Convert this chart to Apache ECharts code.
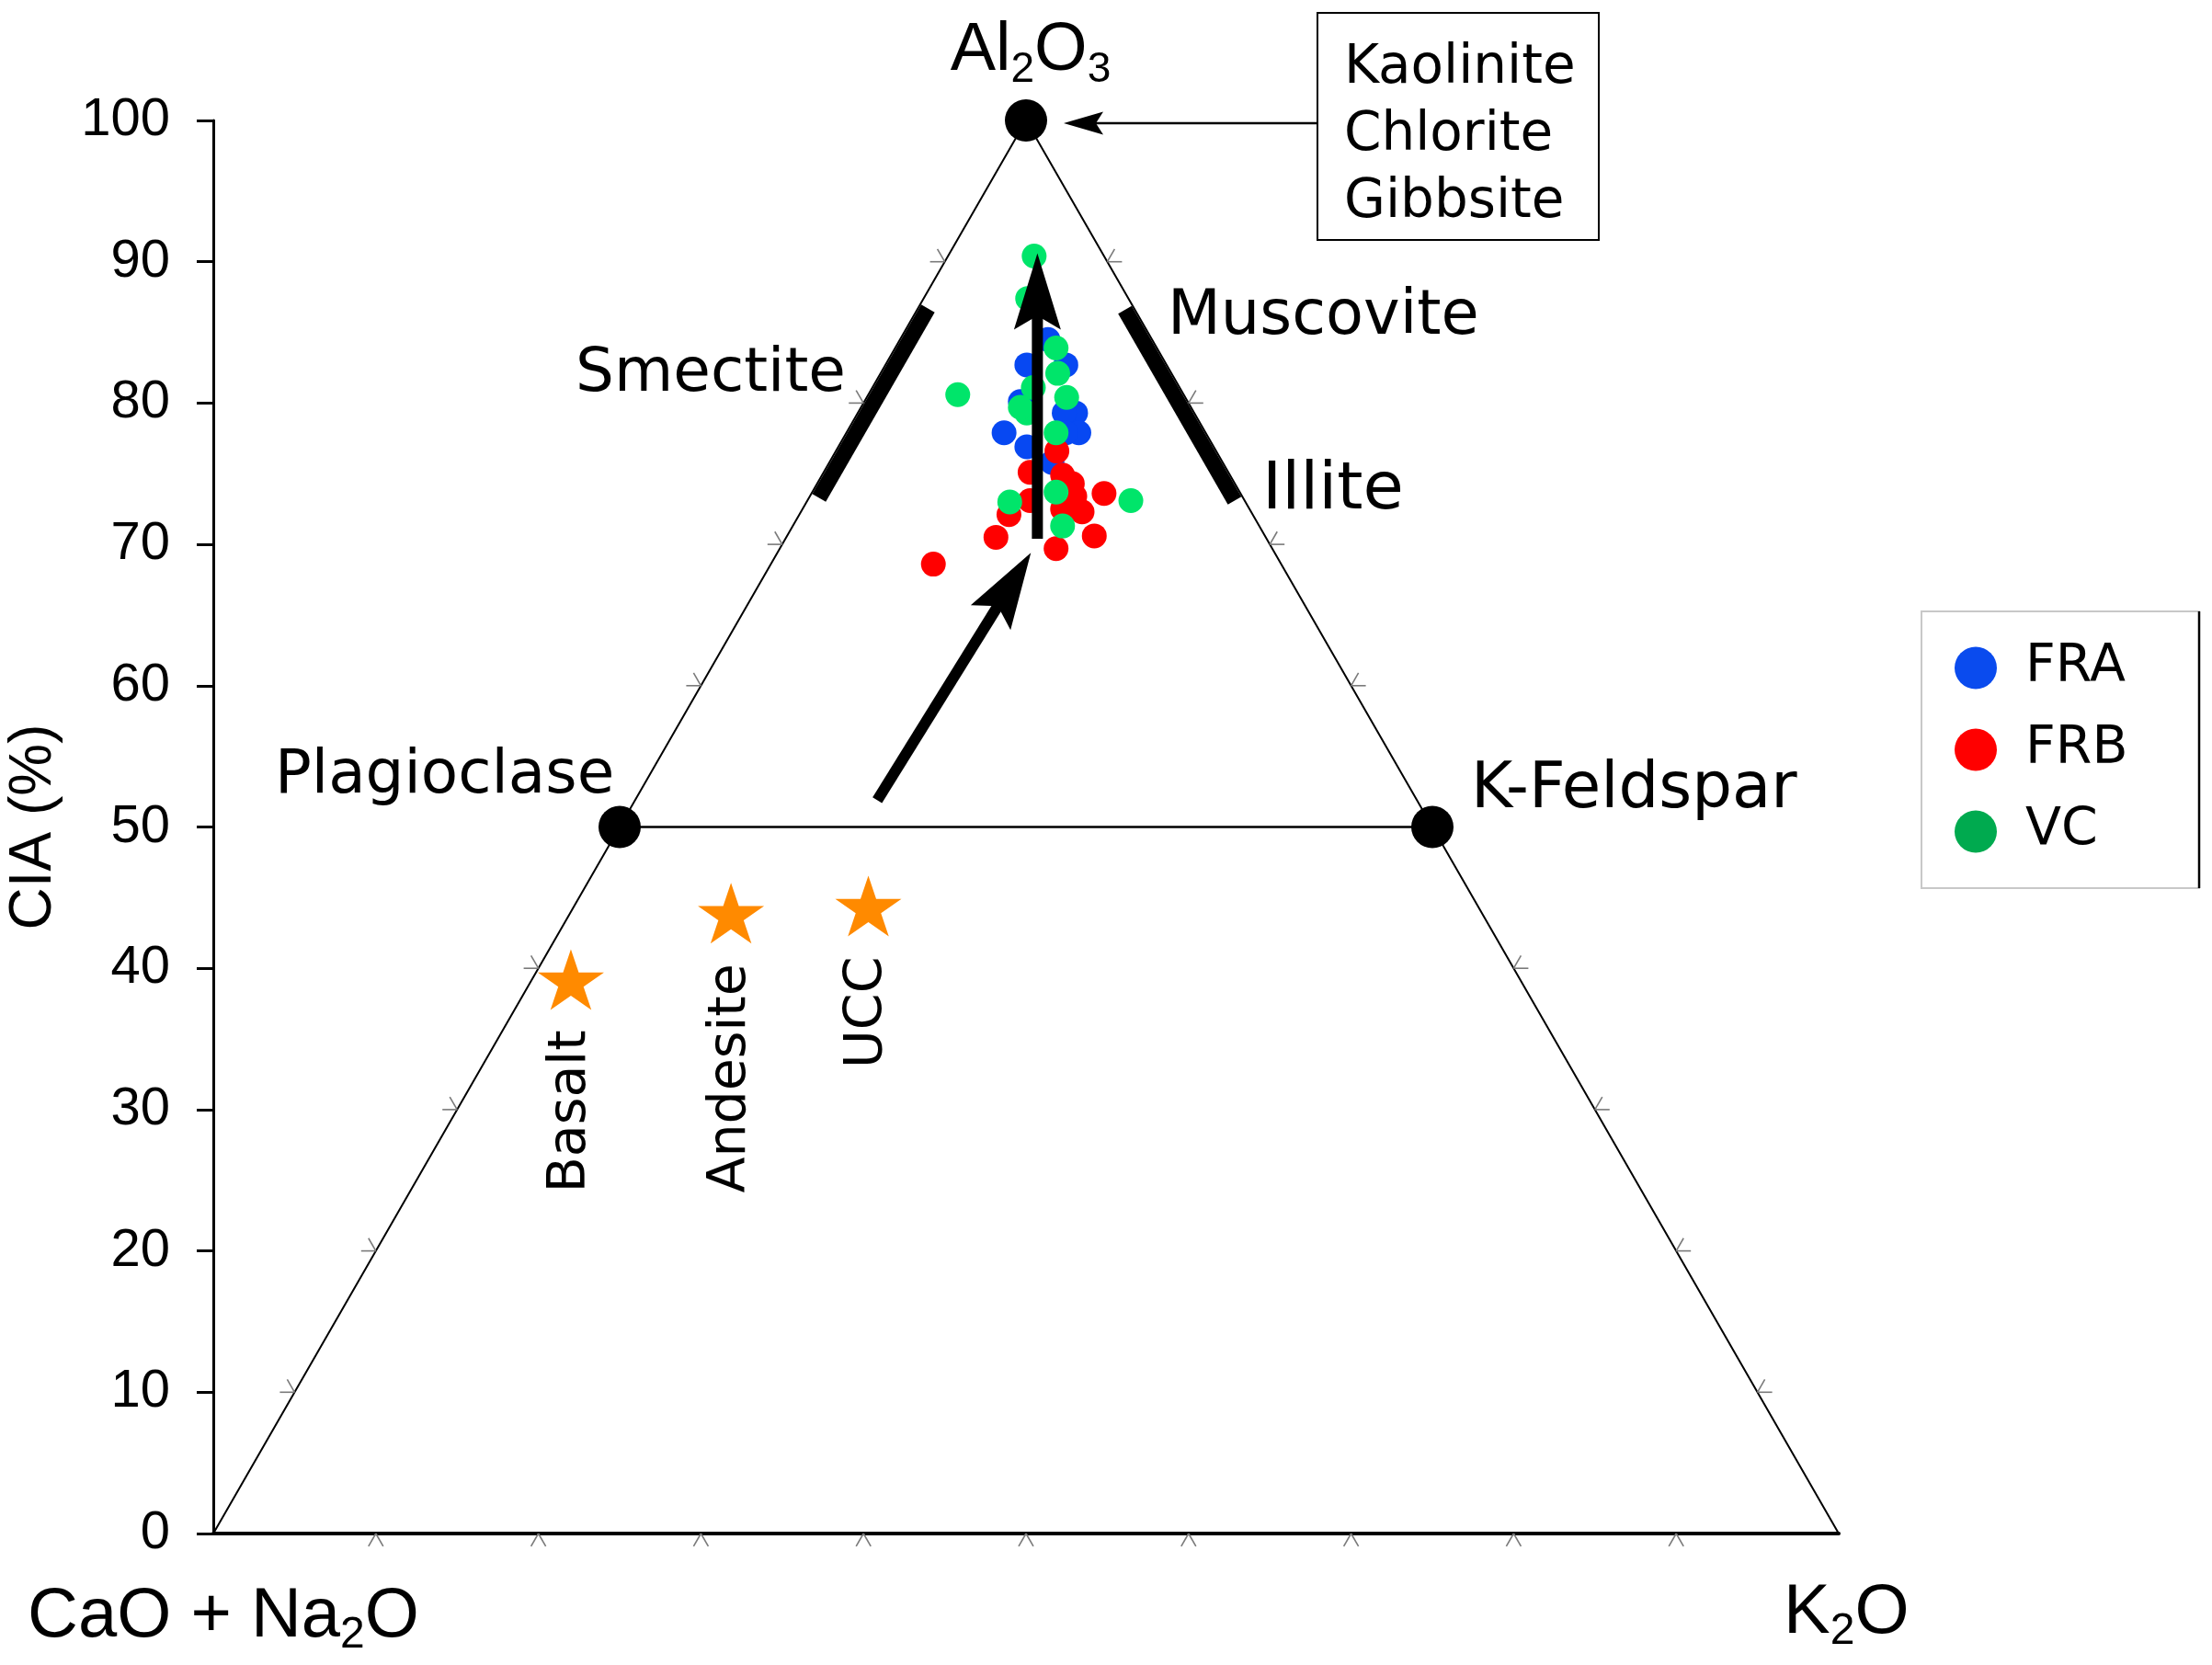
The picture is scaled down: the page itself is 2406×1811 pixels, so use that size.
<!DOCTYPE html>
<html><head><meta charset="utf-8">
<script src="https://cdn.jsdelivr.net/npm/echarts@6/dist/echarts.min.js"></script>
<style>html,body{margin:0;padding:0;background:#fff}#c{width:2406px;height:1811px}</style>
</head><body><div id="c"></div>
<script>
// ---- data (A–CN–K ternary; each sample = [CIA (Al2O3 %), K2O %]) ----
const groupNames = ['FRA', 'FRB', 'VC'];
const FRA = [[82.7,8.7],[80.1,9.6],[82.7,11.1],[79.3,13.4],[77.9,14.3],[76.9,11.6],[75.8,13.7],[84.5,9.1],[79.3,12.7],[77.9,9.7],[77.9,13.5]];
const FRB = [[68.6,10.0],[70.5,12.9],[72.1,12.9],[73.1,13.7],[75.1,12.7],[76.6,13.6],[74.9,14.8],[74.3,15.7],[73.6,18.0],[72.5,16.0],[72.3,17.3],[70.6,18.9],[69.7,17.0],[73.4,16.3]];
const VC  = [[90.4,5.3],[87.4,6.4],[83.9,9.9],[80.4,12.3],[81.1,9.9],[79.3,10.4],[77.9,12.9],[80.6,5.5],[73.7,15.0],[73.0,12.5],[73.1,19.9],[71.3,16.6],[82.1,10.9],[79.7,9.8]];
const rockNames = ['Basalt', 'Andesite', 'UCC'];
const rockValues = [[39.2,2.4],[43.9,9.9],[44.4,18.1]];
const endMemberNames = ['Al2O3', 'Plagioclase', 'K-Feldspar'];
const endMemberValues = [[100,0],[50,0],[50,50]];
// clay mineral ranges of CIA along the A–CN (left) and A–K (right) joins
const mineralBars = [{name:'Smectite', lo:73.6, hi:87.0, side:-1},{name:'Muscovite/Illite', lo:73.4, hi:86.9, side:1}];
// weathering trend arrows, [start, end] as [CIA, K2O]
const trendArrows = [[[51.9,14.9],[69.4,15.6]],[[70.4,15.5],[90.6,5.4]]];
const ternaryTicks = [10,20,30,40,50,60,70,80,90];

// ternary [CIA, K] -> plot [x along base, CIA]
const toXY = d => [d[1] + d[0] / 2, d[0]];

const chart = echarts.init(document.getElementById('c'), null, {renderer:'canvas'});
const S3 = Math.sqrt(3) / 2;
const SANS = 'Liberation Sans, Arial, sans-serif';
const VERD = 'DejaVu Sans, Verdana, sans-serif';
const colors = {FRA:'#0748F2', FRB:'#FF0000', VC:'#00E56A'};

function tickItem(params, api) {
  const t = api.value(0);
  const L = 16, ch = [];
  const mk = (p, dirs) => dirs.forEach(d => ch.push({type:'line', shape:{x1:p[0], y1:p[1], x2:p[0]+d[0]*L, y2:p[1]+d[1]*L}, style:{stroke:'#7a7a7a', lineWidth:1.6}}));
  mk(api.coord([t, 0]), [[-0.5, S3], [0.5, S3]]);
  mk(api.coord([t/2, t]), [[-1, 0], [-0.5, -S3]]);
  mk(api.coord([100 - t/2, t]), [[1, 0], [0.5, -S3]]);
  return {type:'group', children:ch};
}
function barItem(params, api) {
  const b = mineralBars[params.dataIndex];
  const off = 9.5;
  const pt = c => api.coord(b.side < 0 ? [c/2, c] : [100 - c/2, c]);
  const n = b.side < 0 ? [S3*off, 0.5*off] : [-S3*off, 0.5*off];
  const p1 = pt(b.lo), p2 = pt(b.hi);
  return {type:'line', shape:{x1:p1[0]+n[0], y1:p1[1]+n[1], x2:p2[0]+n[0], y2:p2[1]+n[1]}, style:{stroke:'#000', lineWidth:17, lineCap:'butt'}};
}
function arrowItem(params, api) {
  const a = trendArrows[params.dataIndex];
  const p1 = api.coord(toXY(a[0])), p2 = api.coord(toXY(a[1]));
  const dx = p2[0]-p1[0], dy = p2[1]-p1[1], len = Math.hypot(dx, dy);
  const ux = dx/len, uy = dy/len, nx = -uy, ny = ux;
  const L = 83, W = 25.5, notch = 0.82*L;
  const bx = p2[0]-ux*L, by = p2[1]-uy*L;
  const qx = p2[0]-ux*notch, qy = p2[1]-uy*notch;
  return {type:'group', children:[
    {type:'line', shape:{x1:p1[0], y1:p1[1], x2:qx+ux*4, y2:qy+uy*4}, style:{stroke:'#000', lineWidth:12, lineCap:'butt'}},
    {type:'polygon', shape:{points:[[p2[0],p2[1]],[bx+nx*W,by+ny*W],[qx,qy],[bx-nx*W,by-ny*W]]}, style:{fill:'#000'}}
  ]};
}

const starPath = 'path://M50,0L61.23,34.55L97.55,34.55L68.17,55.9L79.39,90.45L50,69.1L20.61,90.45L31.83,55.9L2.45,34.55L38.77,34.55Z';

const sampleSeries = groupNames.map((nm, i) => ({
  name: nm, type:'scatter', z:4,
  data: [FRA, FRB, VC][i].map(toXY),
  symbol:'circle', symbolSize:27,
  itemStyle:{color:colors[nm], opacity:1},
  silent:true
}));

const option = {
  backgroundColor:'#fff',
  animation:false,
  grid:{left:232, top:131, width:1768, height:1537, containLabel:false, outerBoundsMode:'none'},
  xAxis:{type:'value', min:0, max:100, show:true,
    axisLine:{show:true, onZero:false, lineStyle:{color:'#000', width:4}},
    axisTick:{show:false}, axisLabel:{show:false}, splitLine:{show:false}},
  yAxis:{type:'value', min:0, max:100, interval:10,
    name:'CIA (%)', nameLocation:'middle', nameGap:163, nameMoveOverlap:false,
    nameTextStyle:{fontSize:64, fontFamily:SANS, color:'#000'},
    axisLine:{show:true, lineStyle:{color:'#000', width:3}},
    axisTick:{show:true, length:18, lineStyle:{color:'#000', width:3}},
    axisLabel:{fontSize:58, fontFamily:SANS, color:'#000', margin:47},
    splitLine:{show:false}},
  legend:{
    orient:'vertical', left:2090, top:665,
    padding:[33, 78, 30, 36],
    itemWidth:46, itemHeight:46, itemGap:32,
    borderWidth:0,
    textStyle:{fontSize:57, fontFamily:VERD, color:'#000', padding:[0,0,0,26]},
    data:[
      {name:'FRA', icon:'circle', itemStyle:{color:'#0A4BEE'}},
      {name:'FRB', icon:'circle', itemStyle:{color:'#FF0000'}},
      {name:'VC', icon:'circle', itemStyle:{color:'#00AA4F'}}
    ]
  },
  series:[
    {type:'line', z:2, silent:true, symbol:'none',
      data:[[0,0],[50,100],[100,0]],
      lineStyle:{color:'#000', width:2}},
    {type:'line', z:2, silent:true, symbol:'none',
      data:[toXY(endMemberValues[1]), toXY(endMemberValues[2])],
      lineStyle:{color:'#000', width:2.5}},
    {type:'custom', z:3, silent:true, renderItem:tickItem, data:ternaryTicks.map(t => [t])},
    {type:'custom', z:3, silent:true, renderItem:barItem, data:mineralBars.map((b, i) => [i])},
    ...sampleSeries,
    {type:'scatter', name:'Reference rocks', z:5, silent:true,
      data: rockValues.map((v, i) => ({name:rockNames[i], value:toXY(v)})),
      symbol:starPath, symbolSize:[72, 66],
      itemStyle:{color:'#FF8A00', opacity:1},
      label:{show:true, formatter:'{b}', position:'bottom', distance:22, rotate:90,
        align:'right', verticalAlign:'middle', fontSize:57, fontFamily:VERD, color:'#000'}},
    {type:'custom', z:6, silent:true, renderItem:arrowItem, data:trendArrows.map((a, i) => [i])},
    {type:'scatter', name:'End members', z:7, silent:true,
      data: endMemberValues.map((v, i) => ({name:endMemberNames[i], value:toXY(v)})),
      symbol:'circle', symbolSize:46, itemStyle:{color:'#000', opacity:1}}
  ],
  graphic:[
    {type:'rect', z:-1, shape:{x:2090, y:665, width:302, height:301}, style:{fill:'#fff', stroke:'#c8c8c8', lineWidth:2}},
    {type:'line', z:-1, shape:{x1:2392, y1:665, x2:2392, y2:966}, style:{stroke:'#000', lineWidth:2.5}},
    {type:'text', x:1121, y:56, z:20, style:{
      text:'{n|Al}{s|2}{n|O}{s|3}', align:'center', verticalAlign:'middle', fill:'#000',
      rich:{n:{fontSize:74, fontFamily:SANS}, s:{fontSize:46, fontFamily:SANS, padding:[40,0,0,0]}}}},
    {type:'rect', z:20, shape:{x:1433, y:14, width:306, height:247}, style:{fill:'#fff', stroke:'#000', lineWidth:2}},
    {type:'text', z:21, x:1462, y:38, style:{text:'Kaolinite\nChlorite\nGibbsite', fontSize:58, lineHeight:73, fontFamily:VERD, fill:'#000', align:'left', verticalAlign:'top'}},
    {type:'line', z:20, shape:{x1:1433, y1:134, x2:1190, y2:134}, style:{stroke:'#000', lineWidth:2.5}},
    {type:'polygon', z:20, shape:{points:[[1157,134],[1200,121.5],[1192,134],[1200,146.5]]}, style:{fill:'#000'}},
    {type:'text', z:20, x:773, y:408, style:{text:'Smectite', fontSize:66, fontFamily:VERD, fill:'#000', align:'center', verticalAlign:'middle'}},
    {type:'text', z:20, x:1270, y:346, style:{text:'Muscovite', fontSize:67, fontFamily:VERD, fill:'#000', align:'left', verticalAlign:'middle'}},
    {type:'text', z:20, x:1373, y:534, style:{text:'Illite', fontSize:72, fontFamily:VERD, fill:'#000', align:'left', verticalAlign:'middle'}},
    {type:'text', z:20, x:299, y:845, style:{text:'Plagioclase', fontSize:66, fontFamily:VERD, fill:'#000', align:'left', verticalAlign:'middle'}},
    {type:'text', z:20, x:1600, y:860, style:{text:'K-Feldspar', fontSize:69, fontFamily:VERD, fill:'#000', align:'left', verticalAlign:'middle'}},
    {type:'text', z:20, x:30, y:1759, style:{
      text:'{n|CaO + Na}{s|2}{n|O}', align:'left', verticalAlign:'middle', fill:'#000',
      rich:{n:{fontSize:76, fontFamily:SANS}, s:{fontSize:48, fontFamily:SANS, padding:[40,0,0,0]}}}},
    {type:'text', z:20, x:1940, y:1755, style:{
      text:'{n|K}{s|2}{n|O}', align:'left', verticalAlign:'middle', fill:'#000',
      rich:{n:{fontSize:76, fontFamily:SANS}, s:{fontSize:48, fontFamily:SANS, padding:[40,0,0,0]}}}}
  ]
};
chart.setOption(option);
</script></body></html>
